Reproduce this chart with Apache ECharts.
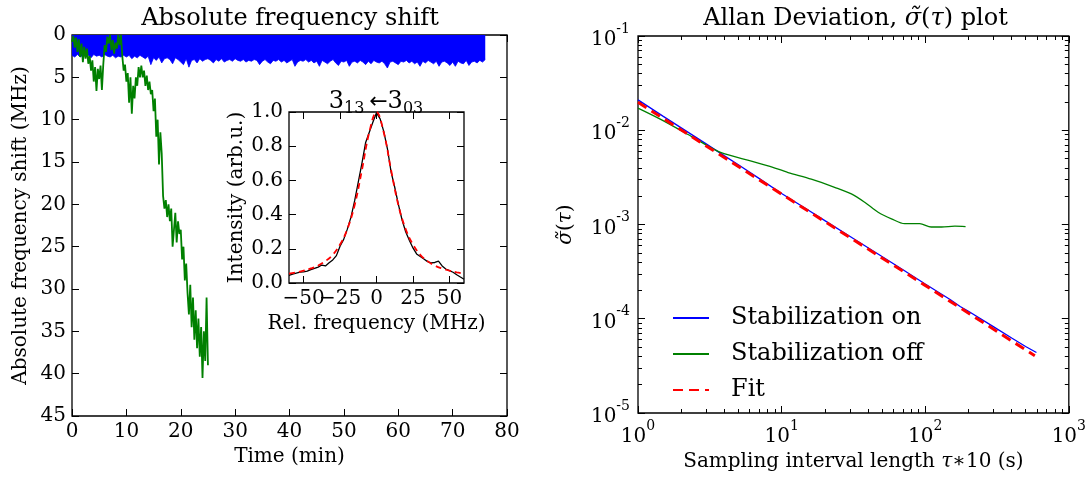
<!DOCTYPE html>
<html>
<head>
<meta charset="utf-8">
<script src="https://cdn.jsdelivr.net/npm/echarts@6/dist/echarts.min.js"></script>
<style>
  html, body { margin: 0; padding: 0; background: #fff; }
  #main { width: 1089px; height: 477px; }
</style>
</head>
<body>
<div id="main"></div>
<script>
// left panel: absolute frequency shift (MHz) vs time (min)
const blueShiftStep = 0.5
const blueShift = [
  2.4, 2.6, 2.3, 2.6, 2.4, 2.5, 2.4, 2.7, 2.3, 2.5, 2.4, 2.6, 2.3, 2.5, 2.6, 2.4, 2.7, 2.5, 2.6, 2.4,
  2.6, 2.4, 2.8, 2.5, 2.7, 2.4, 2.6, 2.8, 2.5,
  3.5, 2.7, 3.0, 2.6, 3.3, 2.8, 2.7, 2.9, 3.4, 2.7, 2.9,
  3.2, 3.5, 2.8, 3.8, 3.0, 2.9, 3.3, 2.8, 3.1, 2.9,
  2.8, 3.0, 3.3, 2.9, 3.1, 2.8, 3.2, 3.0, 2.9, 3.1, 2.8, 3.0,
  3.1, 2.9, 3.2, 3.0, 3.1, 2.9, 3.0, 3.5, 3.1, 2.9, 3.2, 3.4, 3.0,
  3.1, 2.9, 3.2, 3.0, 3.3, 3.1, 2.9, 3.7, 3.2, 3.0, 3.1, 2.9, 3.2,
  3.0, 3.3, 3.1, 3.7, 3.0, 3.2, 3.4, 3.1, 2.9, 3.3, 3.6, 3.1, 3.2,
  3.0, 3.7, 3.2, 3.1, 3.3, 3.0, 3.2, 3.5, 3.1, 3.4, 3.0, 3.2, 3.3,
  3.1, 3.4, 3.9, 3.2, 3.1, 3.3, 3.5, 3.1, 3.2, 3.0, 3.3, 3.1, 3.4,
  3.2, 3.7, 3.1, 3.3, 3.0, 3.2, 3.4, 3.1, 3.7, 3.2, 3.1, 3.3, 3.6,
  3.2, 3.7, 3.1, 3.3, 3.4, 3.0, 3.6, 3.2, 3.1, 3.3, 3.0, 3.2, 2.9
]
const greenShiftStep = 0.25
const greenShift = [
  0.8, 0.1, 1.5, 0.3, 2.0, 0.5, 2.6, 1.0, 3.2, 1.4, 2.8, 1.6, 3.4,
  2.5, 4.2, 3.0, 5.5, 3.8, 6.6, 4.0, 5.2, 3.6, 6.5,
  3.5, 1.2, 2.0, 0.2,
  1.0, 0.0, 1.8, 0.6, 2.2, 0.9, 1.6, 0.0, 1.2, 0.0,
  2.5, 4.2, 3.5, 5.5, 4.5, 8.0, 5.0,
  9.3, 6.0, 7.5, 5.0, 6.0, 3.8, 5.0,
  3.6, 5.0, 4.2, 6.0, 4.8, 6.5, 5.5, 7.0,
  6.5, 9.0, 7.5, 12.0, 10.0, 15.3, 11.5, 14.0,
  19.0, 20.5, 19.5, 21.5, 20.0, 22.0, 20.5, 25.0, 23.0, 21.0, 24.5, 22.0, 23.5,
  23.0, 26.5, 25.0, 29.0, 27.0,
  30.5, 33.0, 29.5, 34.5, 31.0, 36.0, 32.5, 37.0, 33.5, 38.0,
  34.5, 40.5, 35.0, 38.5, 31.0, 39.0
]

// inset: line profile
const specFreq = [-60, -57.5, -55, -52.5, -50, -47.5, -45, -42.5, -40, -37.5, -35, -32.5, -30, -27.5, -25, -22.5,
  -20, -17.5, -15, -12.5, -10, -7.5, -5, -2.5, 0, 2.5, 5, 7.5, 10, 12.5, 15, 17.5, 20, 22.5, 25, 27.5,
  30, 32.5, 35, 37.5, 40, 42.5, 45, 47.5, 50, 52.5, 55, 57.5, 60]
const specIntensity = [0.045, 0.052, 0.058, 0.063, 0.065, 0.070, 0.078, 0.085, 0.093, 0.105, 0.100, 0.118, 0.135, 0.160, 0.215, 0.255,
  0.315, 0.385, 0.480, 0.590, 0.700, 0.820, 0.880, 0.940, 0.995, 0.960, 0.885, 0.785, 0.650, 0.560, 0.460, 0.370,
  0.300, 0.250, 0.205, 0.170, 0.155, 0.140, 0.125, 0.118, 0.120, 0.128, 0.100, 0.082, 0.072, 0.063, 0.048, 0.035, 0.022]
const fitFreq = [-60, -55, -50, -45, -40, -35, -30, -25, -20, -15, -10, -5, 0, 5, 10, 15, 20, 25, 30, 35, 40, 45, 50, 55, 60]
const fitIntensity = [0.055, 0.062, 0.072, 0.085, 0.102, 0.128, 0.165, 0.225, 0.315, 0.455, 0.660, 0.880, 1.0,
  0.880, 0.660, 0.455, 0.315, 0.225, 0.165, 0.128, 0.102, 0.085, 0.072, 0.062, 0.055]
const insetTicks = [-50, -25, 0, 25, 50]
const insetLabelsA = [-25, 0, 25, 50]
const insetLabelsB = [-50]

// right panel: Allan deviation
const tauOn = [1, 1.5, 2, 3, 4, 5, 7, 10, 15, 20, 30, 50, 70, 100, 150, 175, 200, 300, 400, 500, 595]
const sigmaOn = [0.0210, 0.01405, 0.0106, 0.00712, 0.00535, 0.0043, 0.00307, 0.00213, 0.00145, 0.0011, 0.000745,
  0.000458, 0.000331, 0.000234, 0.000159, 0.000135, 0.000120, 0.0000820, 0.0000625, 0.0000508, 0.0000438]
const tauOff = [1, 1.45, 2.23, 3.07, 3.8, 5.53, 8.05, 11.1, 16.1, 23.4, 30.6, 37.9, 47, 58.2, 72, 91.6, 110, 130, 161, 191]
const sigmaOff = [0.0172, 0.01298, 0.00902, 0.00681, 0.00578, 0.00492, 0.00419, 0.00356, 0.00303, 0.00248, 0.00211,
  0.00172, 0.00135, 0.00115, 0.00102, 0.00102, 0.000941, 0.000941, 0.000959, 0.000948]
const tauFit = [1, 10, 100, 580]
const sigmaFit = [0.0198, 0.00210, 0.000226, 0.0000405]
const minorMantissa = [2, 3, 4, 5, 6, 7, 8, 9]

const FONT = 'DejaVu Serif'
const chart = echarts.init(document.getElementById('main'))

const pairs = (xs, ys) => xs.map((x, i) => [x, ys[i]])
const stepped = (step, ys) => ys.map((y, i) => [i * step, y])
// minor ticks of the log axes, positioned on a hidden linear axis in decades
const minorDecades = (from, n) => {
  const out = []
  for (let d = 0; d < n; d++) minorMantissa.forEach(m => out.push(from + d + Math.log10(m)))
  return out
}

const tick = (len) => ({ show: true, inside: true, length: len, lineStyle: { color: '#000', width: 1 } })
const txt = (size) => ({ fontFamily: FONT, fontSize: size, color: '#000' })
const noLine = { show: false, onZero: false }
const supRich = {
  b: { fontFamily: FONT, fontSize: 20, color: '#000', lineHeight: 28, verticalAlign: 'bottom' },
  s: { fontFamily: FONT, fontSize: 14, color: '#000', lineHeight: 28, verticalAlign: 'top' }
}
const italicRich = { i: { fontFamily: FONT, fontSize: 20, color: '#000', fontStyle: 'italic' } }
const powLabel = v => '{b|10}{s|' + Math.round(Math.log10(v)) + '}'
const minusLabel = v => String(v).replace('-', '\u2212')
const labelAll = { showMinLabel: true, showMaxLabel: true, hideOverlap: false }

const mirror = (base) => Object.assign({ axisLine: noLine, splitLine: { show: false }, axisLabel: { show: false } }, base)

const option = {
  animation: false,
  backgroundColor: '#fff',
  title: [
    { text: 'Absolute frequency shift', left: 290, top: 7, textAlign: 'center', padding: 0,
      textStyle: Object.assign(txt(24), { fontWeight: 'normal' }) },
    { text: '3{s|13}\u2009{a|←}3{s|03}', left: 376, top: 87, textAlign: 'center', padding: 0,
      textStyle: {
        fontFamily: FONT, fontSize: 24, color: '#000', fontWeight: 'normal', lineHeight: 30,
        rich: {
          s: { fontFamily: FONT, fontSize: 16, color: '#000', lineHeight: 30, verticalAlign: 'bottom' },
          a: { fontFamily: 'DejaVu Sans', fontSize: 22, color: '#000', lineHeight: 30 }
        }
      } },
    { text: 'Allan Deviation, {i|σ̃}({i|τ}) plot', left: 855.5, top: 7, textAlign: 'center', padding: 0,
      textStyle: Object.assign(txt(24), { fontWeight: 'normal',
        rich: { i: { fontFamily: FONT, fontSize: 24, color: '#000', fontStyle: 'italic' } } }) }
  ],
  legend: {
    data: ['Stabilization on', 'Stabilization off', 'Fit'],
    orient: 'vertical',
    left: 667,
    top: 300,
    itemWidth: 36,
    itemHeight: 14,
    itemGap: 10,
    itemStyle: { opacity: 0 },
    textStyle: Object.assign(txt(24), { lineHeight: 26, padding: [0, 0, 0, 17] })
  },
  grid: [
    { left: 72, top: 35, width: 435, height: 381, show: true, borderColor: '#000', borderWidth: 1.3 },
    { left: 289, top: 112, width: 175, height: 171, show: true, borderColor: '#000', borderWidth: 1.3, backgroundColor: '#fff' },
    { left: 638, top: 36, width: 435, height: 380, show: true, borderColor: '#000', borderWidth: 1.3 }
  ],
  xAxis: [
    { type: 'value', gridIndex: 0, min: 0, max: 80, interval: 10, position: 'bottom',
      axisLine: noLine, splitLine: { show: false }, axisTick: tick(7),
      axisLabel: Object.assign(txt(20), labelAll, { margin: 6 }),
      name: 'Time (min)', nameLocation: 'middle', nameGap: 30, nameTextStyle: txt(20) },
    mirror({ type: 'value', gridIndex: 0, min: 0, max: 80, interval: 10, position: 'top', axisTick: tick(7) }),
    { type: 'value', gridIndex: 1, min: -60, max: 60, position: 'bottom',
      axisLine: noLine, splitLine: { show: false },
      axisTick: Object.assign(tick(7), { customValues: insetTicks }),
      axisLabel: Object.assign(txt(20), labelAll, { margin: 6, customValues: insetLabelsA, formatter: minusLabel }),
      name: 'Rel. frequency (MHz)', nameLocation: 'middle', nameGap: 31, nameTextStyle: txt(20) },
    mirror({ type: 'value', gridIndex: 1, min: -60, max: 60, position: 'top',
      axisTick: Object.assign(tick(7), { customValues: insetTicks }) }),
    { type: 'log', logBase: 10, gridIndex: 2, min: 1, max: 1000, position: 'bottom',
      axisLine: noLine, splitLine: { show: false }, axisTick: tick(7),
      axisLabel: Object.assign({ margin: 6, formatter: powLabel, rich: supRich }, labelAll),
      name: 'Sampling interval length {i|τ}∗10 (s)', nameLocation: 'middle', nameGap: 39,
      nameTextStyle: Object.assign(txt(20), { rich: italicRich }) },
    mirror({ type: 'log', logBase: 10, gridIndex: 2, min: 1, max: 1000, position: 'top', axisTick: tick(7) }),
    mirror({ type: 'value', gridIndex: 2, min: 0, max: 3, position: 'bottom',
      axisTick: Object.assign(tick(4), { customValues: minorDecades(0, 3) }) }),
    mirror({ type: 'value', gridIndex: 2, min: 0, max: 3, position: 'top',
      axisTick: Object.assign(tick(4), { customValues: minorDecades(0, 3) }) }),
    // second label layer for the inset so that the overlapping "−50" is kept, as in the original
    { type: 'value', gridIndex: 1, min: -60, max: 60, position: 'bottom',
      axisLine: noLine, splitLine: { show: false }, axisTick: { show: false },
      axisLabel: Object.assign(txt(20), labelAll, { margin: 6, customValues: insetLabelsB, formatter: minusLabel }) }
  ],
  yAxis: [
    { type: 'value', gridIndex: 0, min: 0, max: 45, interval: 5, inverse: true, position: 'left',
      axisLine: noLine, splitLine: { show: false }, axisTick: tick(7),
      axisLabel: Object.assign(txt(20), labelAll, { margin: 6 }),
      name: 'Absolute frequency shift (MHz)', nameLocation: 'middle', nameGap: 41, nameTextStyle: txt(20) },
    mirror({ type: 'value', gridIndex: 0, min: 0, max: 45, interval: 5, inverse: true, position: 'right', axisTick: tick(7) }),
    { type: 'value', gridIndex: 1, min: 0, max: 1, interval: 0.2, position: 'left',
      axisLine: noLine, splitLine: { show: false }, axisTick: tick(7),
      axisLabel: Object.assign(txt(20), labelAll, { margin: 6, formatter: v => v.toFixed(1) }),
      name: 'Intensity (arb.u.)', nameLocation: 'middle', nameGap: 42, nameTextStyle: txt(20) },
    mirror({ type: 'value', gridIndex: 1, min: 0, max: 1, interval: 0.2, position: 'right', axisTick: tick(7) }),
    { type: 'log', logBase: 10, gridIndex: 2, min: 0.00001, max: 0.1, position: 'left',
      axisLine: noLine, splitLine: { show: false }, axisTick: tick(7),
      axisLabel: Object.assign({ margin: 8, formatter: powLabel, rich: supRich }, labelAll),
      name: '{i|σ̃}({i|τ})', nameLocation: 'middle', nameGap: 62,
      nameTextStyle: Object.assign(txt(20), { rich: italicRich }) },
    mirror({ type: 'log', logBase: 10, gridIndex: 2, min: 0.00001, max: 0.1, position: 'right', axisTick: tick(7) }),
    mirror({ type: 'value', gridIndex: 2, min: -5, max: -1, position: 'left',
      axisTick: Object.assign(tick(4), { customValues: minorDecades(-5, 4) }) }),
    mirror({ type: 'value', gridIndex: 2, min: -5, max: -1, position: 'right',
      axisTick: Object.assign(tick(4), { customValues: minorDecades(-5, 4) }) })
  ],
  series: [
    { name: 'stabilized shift', type: 'line', xAxisIndex: 0, yAxisIndex: 0, data: stepped(blueShiftStep, blueShift),
      symbol: 'none', lineStyle: { color: '#0000ff', width: 0.8 }, areaStyle: { color: '#0000ff', opacity: 1 } },
    { name: 'free shift', type: 'line', xAxisIndex: 0, yAxisIndex: 0, data: stepped(greenShiftStep, greenShift),
      symbol: 'none', lineStyle: { color: '#008000', width: 1.8 } },
    { name: 'profile', type: 'line', xAxisIndex: 2, yAxisIndex: 2, data: pairs(specFreq, specIntensity),
      symbol: 'none', lineStyle: { color: '#000', width: 1.3 } },
    { name: 'profile fit', type: 'line', xAxisIndex: 2, yAxisIndex: 2, data: pairs(fitFreq, fitIntensity), smooth: 0.4,
      symbol: 'none', lineStyle: { color: '#ff0000', width: 1.8, type: [6, 4] } },
    { name: 'Stabilization on', type: 'line', xAxisIndex: 4, yAxisIndex: 4, data: pairs(tauOn, sigmaOn),
      symbol: 'none', itemStyle: { color: '#0000ff' }, lineStyle: { color: '#0000ff', width: 1.3 } },
    { name: 'Stabilization off', type: 'line', xAxisIndex: 4, yAxisIndex: 4, data: pairs(tauOff, sigmaOff), smooth: 0.3,
      symbol: 'none', itemStyle: { color: '#008000' }, lineStyle: { color: '#008000', width: 1.3 } },
    { name: 'Fit', type: 'line', xAxisIndex: 4, yAxisIndex: 4, data: pairs(tauFit, sigmaFit),
      symbol: 'none', itemStyle: { color: '#ff0000' }, lineStyle: { color: '#ff0000', width: 3, type: [10, 6] } }
  ]
}
chart.setOption(option)
</script>
</body>
</html>
